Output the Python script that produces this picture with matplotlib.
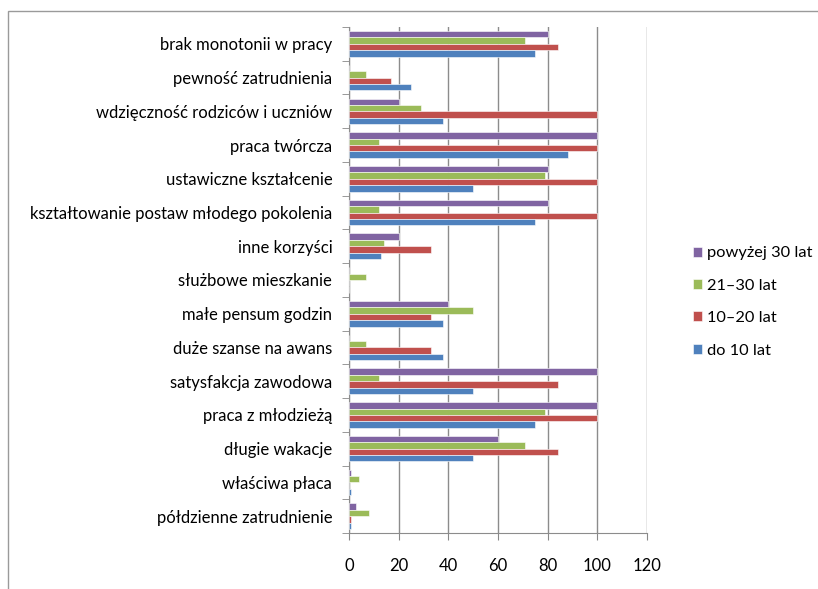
import matplotlib.pyplot as plt
from matplotlib.patches import Rectangle
import numpy as np

plt.rcParams['font.family'] = ['Lato', 'DejaVu Sans']

categories = ['brak monotonii w pracy', 'pewność zatrudnienia', 'wdzięczność rodziców i uczniów',
              'praca twórcza', 'ustawiczne kształcenie', 'kształtowanie postaw młodego pokolenia',
              'inne korzyści', 'służbowe mieszkanie', 'małe pensum godzin', 'duże szanse na awans',
              'satysfakcja zawodowa', 'praca z młodzieżą', 'długie wakacje', 'właściwa płaca',
              'półdzienne zatrudnienie']

powyzej_30 = [80, 0, 20, 100, 80, 80, 20, 0, 40, 0, 100, 100, 60, 1, 3]
lat_21_30 = [71, 7, 29, 12, 79, 12, 14, 7, 50, 7, 12, 79, 71, 4, 8]
lat_10_20 = [84, 17, 100, 100, 100, 100, 33, 0, 33, 33, 84, 100, 84, 0, 1]
do_10 = [75, 25, 38, 88, 50, 75, 13, 0, 38, 38, 50, 75, 50, 1, 1]

series = [('powyżej 30 lat', powyzej_30, '#8064A2'),
          ('21–30 lat', lat_21_30, '#9BBB59'),
          ('10–20 lat', lat_10_20, '#C0504D'),
          ('do 10 lat', do_10, '#4F81BD')]

fig = plt.figure(figsize=(8.18, 5.89), dpi=100)
fig.patches.append(Rectangle((8 / 818, -0.1), 1.2, 1 - 11 / 589 + 0.1, transform=fig.transFigure,
                             fill=False, edgecolor='#9a9a9a', linewidth=1.0))
ax = fig.add_axes([349 / 818, 1 - 533 / 589, 298 / 818, 506 / 589])

n = len(categories)
pos = np.arange(n)[::-1]
h = 0.19
offsets = [1.5 * h, 0.5 * h, -0.5 * h, -1.5 * h]
for (name, vals, col), off in zip(series, offsets):
    ax.barh(pos + off, vals, height=h, color=col, edgecolor='white', linewidth=0.4, label=name, zorder=3)

ax.set_xlim(0, 120)
ax.set_ylim(-0.5, n - 0.5)
ax.set_xticks(range(0, 121, 20))
ax.set_yticks(pos)
ax.set_yticklabels(categories)
ax.set_yticks(np.arange(-0.5, n, 1), minor=True)
ax.tick_params(axis='y', which='major', length=0, pad=12, labelsize=12)
ax.tick_params(axis='y', which='minor', length=5, color='#888888', direction='out')
ax.tick_params(axis='x', length=5, color='#888888', pad=13, labelsize=12)
ax.grid(axis='x', color='#8c8c8c', linewidth=1.0, zorder=0)
for s in ['top', 'right']:
    ax.spines[s].set_visible(False)
for s in ['left', 'bottom']:
    ax.spines[s].set_color('#8c8c8c')

ax.legend(loc='center left', bbox_to_anchor=(686 / 818, 287 / 589), bbox_transform=fig.transFigure,
          frameon=False, fontsize=11.8, handlelength=0.55, handleheight=0.55, handletextpad=0.35,
          labelspacing=1.12, borderaxespad=0)

fig.savefig('out.png', dpi=100)
